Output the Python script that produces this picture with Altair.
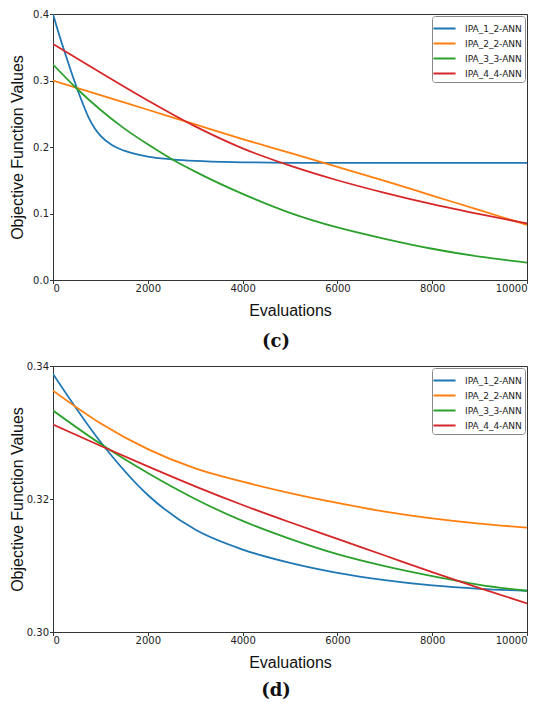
import altair as alt
import pandas as pd

names = ["IPA_1_2-ANN", "IPA_2_2-ANN", "IPA_3_3-ANN", "IPA_4_4-ANN"]
colors = ["#1f77b4", "#ff7f0e", "#2ca02c", "#d62728"]

# ---------- panel (c) ----------
c_x_blue = [0, 125, 250, 375, 500, 625, 750, 875, 1000, 1250, 1500, 2000, 2500, 3000,
            4000, 5000, 6000, 7000, 8000, 9000, 10000]
c_y_blue = [0.400, 0.370, 0.342, 0.315, 0.2895, 0.266, 0.2445, 0.2285, 0.217, 0.2025,
            0.1945, 0.1855, 0.1815, 0.179, 0.177, 0.1762, 0.176, 0.176, 0.176, 0.176, 0.176]

c_x_orange = [0, 1000, 2000, 3000, 4000, 5000, 6000, 7000, 8000, 9000, 10000]
c_y_orange = [0.300, 0.278, 0.256, 0.234, 0.212, 0.191, 0.170, 0.149, 0.127, 0.105, 0.083]

c_x_green = [0, 500, 1000, 1500, 2000, 2500, 3000, 4000, 5000, 6000, 7000, 8000, 9000, 10000]
c_y_green = [0.324, 0.288, 0.256, 0.228, 0.204, 0.182, 0.163, 0.1295, 0.101, 0.079,
             0.062, 0.047, 0.035, 0.026]

c_x_red = [0, 1000, 2000, 3000, 4000, 5000, 6000, 7000, 8000, 9000, 10000]
c_y_red = [0.355, 0.312, 0.270, 0.231, 0.198, 0.172, 0.150, 0.131, 0.114, 0.099, 0.085]

# ---------- panel (d) ----------
d_x_blue = [0, 1000, 2000, 3000, 4000, 5000, 6000, 7000, 8000, 9000, 10000]
d_y_blue = [0.3388, 0.3286, 0.3206, 0.3154, 0.3124, 0.3104, 0.3089, 0.3078, 0.3070,
            0.3065, 0.3062]

d_x_orange = [0, 1000, 2000, 3000, 4000, 5000, 6000, 7000, 8000, 9000, 10000]
d_y_orange = [0.3363, 0.3314, 0.3275, 0.3246, 0.3226, 0.3209, 0.3194, 0.3181, 0.3171,
              0.3163, 0.3157]

d_x_green = [0, 1000, 2000, 3000, 4000, 5000, 6000, 7000, 8000, 9000, 10000]
d_y_green = [0.3333, 0.3283, 0.3239, 0.3200, 0.3167, 0.3140, 0.3117, 0.3099, 0.3084,
             0.3071, 0.3062]

d_x_red = [0, 1000, 2000, 3000, 4000, 5000, 6000, 7000, 8000, 9000, 10000]
d_y_red = [0.3312, 0.3280, 0.3249, 0.3219, 0.3191, 0.3165, 0.3140, 0.3115, 0.3090,
           0.3066, 0.3043]

x_ticks = [0, 2000, 4000, 6000, 8000, 10000]


def frame(series):
    rows = []
    for name, xs, ys in series:
        for i, (x, y) in enumerate(zip(xs, ys)):
            rows.append({"series": name, "evals": x, "value": y, "order": i})
    return pd.DataFrame(rows)


df_c = frame([
    (names[0], c_x_blue, c_y_blue),
    (names[1], c_x_orange, c_y_orange),
    (names[2], c_x_green, c_y_green),
    (names[3], c_x_red, c_y_red),
])
df_d = frame([
    (names[0], d_x_blue, d_y_blue),
    (names[1], d_x_orange, d_y_orange),
    (names[2], d_x_green, d_y_green),
    (names[3], d_x_red, d_y_red),
])

color_enc = alt.Color(
    "series:N",
    scale=alt.Scale(domain=names, range=colors),
    legend=alt.Legend(
        title=None, orient="top-right", offset=2, padding=3,
        strokeColor="#888", fillColor="white", cornerRadius=3,
        labelFont="DejaVu Sans", labelFontSize=9, labelColor="#222",
        symbolType="M-1.3,0L1.3,0", symbolStrokeWidth=2, symbolSize=289,
        rowPadding=-3.6, labelOffset=11,
    ),
)


def panel(df, ydomain, yticks, yfmt, label, width, title_pad, label_offset):
    return alt.Chart(df).mark_line(
        interpolate="monotone", strokeWidth=1.8, clip=True
    ).encode(
        x=alt.X("evals:Q", scale=alt.Scale(domain=[0, 10000], nice=False),
                axis=alt.Axis(values=x_ticks, title="Evaluations", format="d",
                              labelPadding=0, titlePadding=8.5)),
        y=alt.Y("value:Q", scale=alt.Scale(domain=ydomain, nice=False, zero=False),
                axis=alt.Axis(values=yticks, format=yfmt,
                              title="Objective Function Values",
                              labelPadding=1, titlePadding=title_pad)),
        color=color_enc,
        order="order:Q",
    ).properties(
        width=width, height=266,
        title=alt.TitleParams(label, orient="bottom", font="DejaVu Serif",
                              fontSize=18, fontWeight="bold", color="#111",
                              anchor="middle", offset=label_offset, dx=-14),
    )


top = panel(df_c, [0, 0.4], [0.0, 0.1, 0.2, 0.3, 0.4], ".1f", "(c)", 474, 7.4, 15)
bottom = panel(df_d, [0.30, 0.34], [0.30, 0.32, 0.34], ".2f", "(d)", 474, 1, 12)

chart = alt.vconcat(top, bottom, spacing=8).resolve_scale(
    color="independent"
).resolve_legend(
    color="independent"
).properties(
    padding={"left": 0, "top": 0, "right": 0, "bottom": 0}
).configure_view(
    stroke="#333", strokeWidth=1
).configure_axis(
    grid=False, domainColor="#333", tickColor="#333", tickSize=3.5,
    labelFont="DejaVu Sans", labelFontSize=10, labelColor="#222",
    titleFont="Liberation Sans", titleFontSize=16, titleFontWeight="normal",
    titleColor="#111",
)

chart.save("out.html", embed_options={"renderer": "svg", "actions": False})
